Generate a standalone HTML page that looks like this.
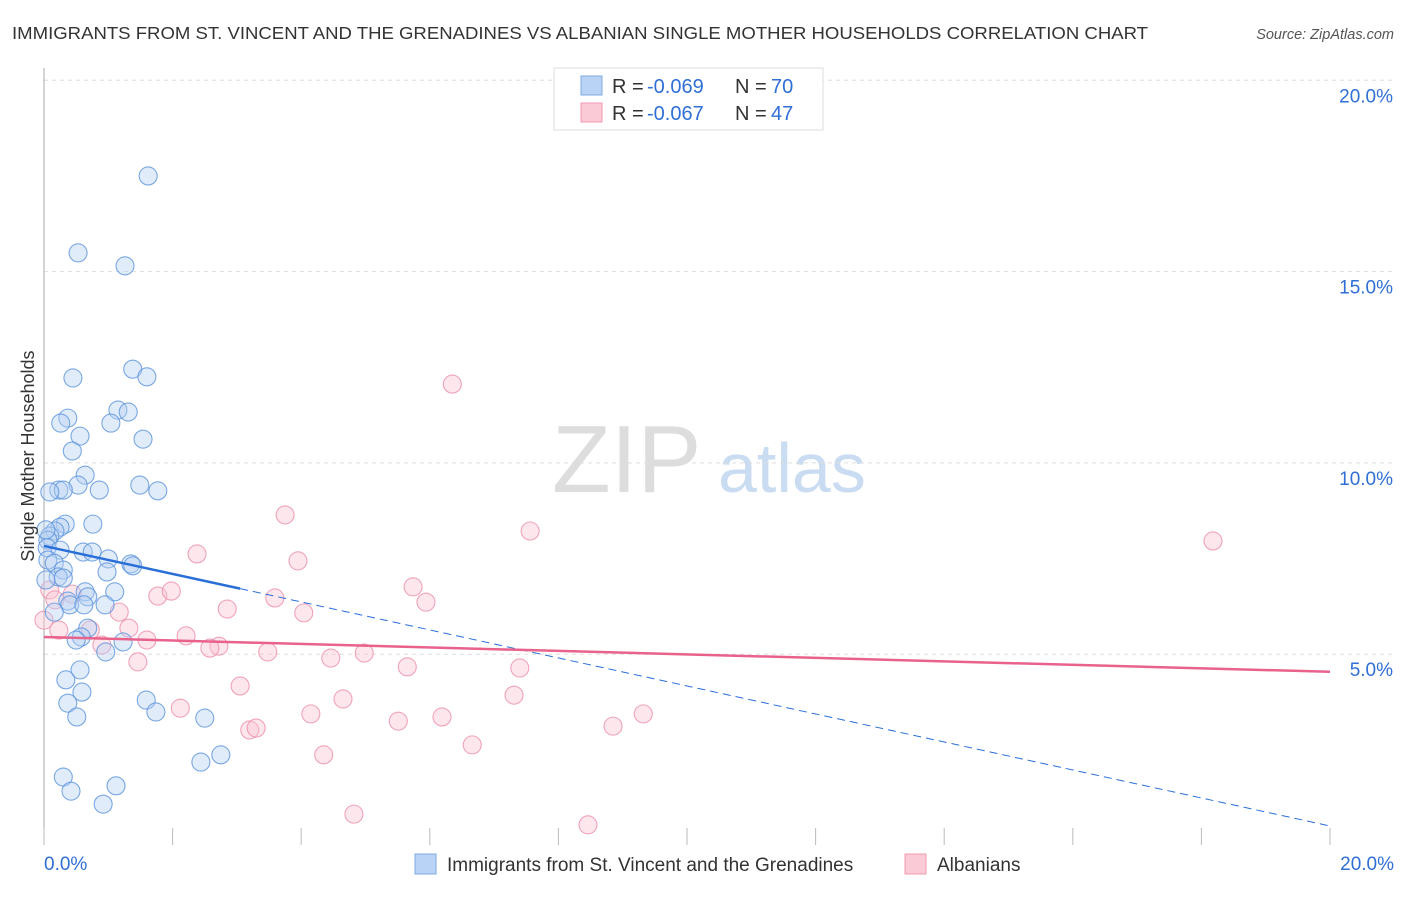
<!DOCTYPE html>
<html><head><meta charset="utf-8"><style>
body{margin:0;background:#fff;font-family:"Liberation Sans",sans-serif;}
svg text{font-family:"Liberation Sans",sans-serif;}
</style></head><body>
<svg width="1406" height="892" xmlns="http://www.w3.org/2000/svg">
<text x="12" y="39" font-size="17.5" fill="#333" textLength="1136" lengthAdjust="spacingAndGlyphs">IMMIGRANTS FROM ST. VINCENT AND THE GRENADINES VS ALBANIAN SINGLE MOTHER HOUSEHOLDS CORRELATION CHART</text>
<text x="1394" y="39" font-size="14.5" fill="#555" font-style="italic" text-anchor="end">Source: ZipAtlas.com</text>
<g>
<text x="552" y="492" font-size="96" fill="#ddd" font-family="Liberation Serif">ZIP</text>
<text x="718" y="492" font-size="70" fill="#c9dcf2">atlas</text>
</g>
<g id="grid"></g>
<g id="axes"></g>
<g id="marks"></g>
<g>
<rect x="554" y="68" width="269" height="62" fill="#fff" stroke="#ddd"/>
<rect x="581" y="76" width="21" height="19" fill="#b8d3f5" stroke="#7fa9e0"/>
<rect x="581" y="103" width="21" height="19" fill="#fbcad7" stroke="#f09ab2"/>
<text y="93" font-size="20" fill="#333"><tspan x="612">R = </tspan><tspan x="647" fill="#2f6fd6">-0.069</tspan><tspan x="735">N = </tspan><tspan x="771" fill="#2f6fd6">70</tspan></text>
<text y="120" font-size="20" fill="#333"><tspan x="612">R = </tspan><tspan x="647" fill="#2f6fd6">-0.067</tspan><tspan x="735">N = </tspan><tspan x="771" fill="#2f6fd6">47</tspan></text>
</g>
<g>
<rect x="415" y="854" width="21" height="20" fill="#b8d3f5" stroke="#7fa9e0"/>
<text x="447" y="871" font-size="19" fill="#333">Immigrants from St. Vincent and the Grenadines</text>
<rect x="905" y="854" width="21" height="20" fill="#fbcad7" stroke="#f09ab2"/>
<text x="937" y="871" font-size="19" fill="#333">Albanians</text>
</g>
<text transform="translate(34,456) rotate(-90)" font-size="18" fill="#333" text-anchor="middle">Single Mother Households</text>
</svg>
<script>
const bluePx=[[148,176],[78,253],[125,266],[133,369],[147,377],[73,378],[118,410],[128,412],[68,418],[61,423],[111,423],[80,436],[143,439],[72,451],[85,475],[78,485],[59,490],[63,490],[99,490],[140,485],[158,491],[50,492],[65,524],[93,524],[60,527],[55,531],[50,536],[48,540],[47,548],[60,550],[83,552],[92,552],[48,560],[54,563],[63,570],[108,559],[131,564],[133,566],[58,577],[107,572],[63,578],[46,580],[85,592],[115,592],[88,597],[68,601],[70,605],[84,605],[105,605],[54,612],[88,628],[81,637],[76,640],[123,642],[106,652],[80,670],[66,680],[82,692],[68,703],[77,717],[146,700],[156,712],[205,718],[63,777],[116,786],[71,791],[103,804],[201,762],[221,755],[46,530]];
const pinkPx=[[452,384],[285,515],[530,531],[1213,541],[197,554],[298,561],[413,587],[426,602],[275,598],[304,613],[158,596],[171,591],[227,609],[119,612],[72,594],[59,630],[90,630],[129,628],[147,640],[186,636],[219,646],[210,648],[268,652],[331,658],[364,653],[407,667],[520,668],[138,662],[102,645],[240,686],[180,708],[343,699],[311,714],[514,695],[398,721],[442,717],[643,714],[613,726],[250,730],[256,728],[324,755],[472,745],[354,814],[588,825],[50,590],[55,600],[44,620]];
const blueX=bluePx.map(p=>+((p[0]-44)/64.3).toFixed(2));
const blueY=bluePx.map(p=>+((845.5-p[1])/38.26).toFixed(2));
const pinkX=pinkPx.map(p=>+((p[0]-44)/64.3).toFixed(2));
const pinkY=pinkPx.map(p=>+((845.5-p[1])/38.26).toFixed(2));
const yTicks=[5,10,15,20];
const yTickLabels=["5.0%","10.0%","15.0%","20.0%"];
const xTicks=[0,2,4,6,8,10,12,14,16,18,20];
const blueTrend=[7.83,0.51];
const pinkTrend=[5.45,4.54];
const blueSolidEnd=3.05;

const NS="http://www.w3.org/2000/svg";
const sx=v=>44+v*64.3, sy=v=>845.5-v*38.26;
function mk(tag,attrs,parent){const e=document.createElementNS(NS,tag);for(const k in attrs)e.setAttribute(k,attrs[k]);parent.appendChild(e);return e;}
const grid=document.getElementById('grid'),axes=document.getElementById('axes'),marks=document.getElementById('marks');
yTicks.forEach((t,i)=>{
 const l=mk('line',{x1:44,x2:1394,y1:sy(t),y2:sy(t),stroke:'#ddd','stroke-dasharray':'4,4'},grid);
 
 
 const tx=mk('text',{x:1393,y:sy(t)+22,'font-size':19,fill:'#2f6fd6','text-anchor':'end'},axes);
 tx.textContent=yTickLabels[i];
 
 
});
const ya=mk('line',{x1:44,x2:44,y1:68,y2:845,stroke:'#aaa'},axes);


xTicks.forEach(t=>{
 const l=mk('line',{x1:sx(t),x2:sx(t),y1:828,y2:845,stroke:'#bbb'},axes);
 
 
});
[[0,"0.0%","start",44],[20,"20.0%","end",1394]].forEach(d=>{
 const tx=mk('text',{x:d[3],y:870,'font-size':19,fill:'#2f6fd6','text-anchor':d[2]},axes);
 tx.textContent=d[1];
 
 
});
function dots(xs,ys,fill,stroke,name){
 xs.forEach((x,i)=>{
  const c=mk('circle',{cx:sx(x),cy:sy(ys[i]),r:9,fill:fill,'fill-opacity':0.4,stroke:stroke,'stroke-opacity':0.8,'stroke-width':1.1},marks);
  
  
 });
}
dots(pinkX,pinkY,'#f9c4d3','#ec8fab','albanian-point');
dots(blueX,blueY,'#b3cff2','#5b93dd','immigrant-point');
const bf=x=>blueTrend[0]+(blueTrend[1]-blueTrend[0])*x/20;
const bs=mk('line',{x1:sx(0),y1:sy(bf(0)),x2:sx(blueSolidEnd),y2:sy(bf(blueSolidEnd)),stroke:'#2a6fd8','stroke-width':2.5},marks);


const bd=mk('line',{x1:sx(blueSolidEnd),y1:sy(bf(blueSolidEnd)),x2:sx(20),y2:sy(bf(20)),stroke:'#2a6fd8','stroke-width':1,'stroke-dasharray':'8,5'},marks);


const pl=mk('line',{x1:sx(0),y1:sy(pinkTrend[0]),x2:sx(20),y2:sy(pinkTrend[1]),stroke:'#e8628c','stroke-width':2.5},marks);


</script>
</body></html>
